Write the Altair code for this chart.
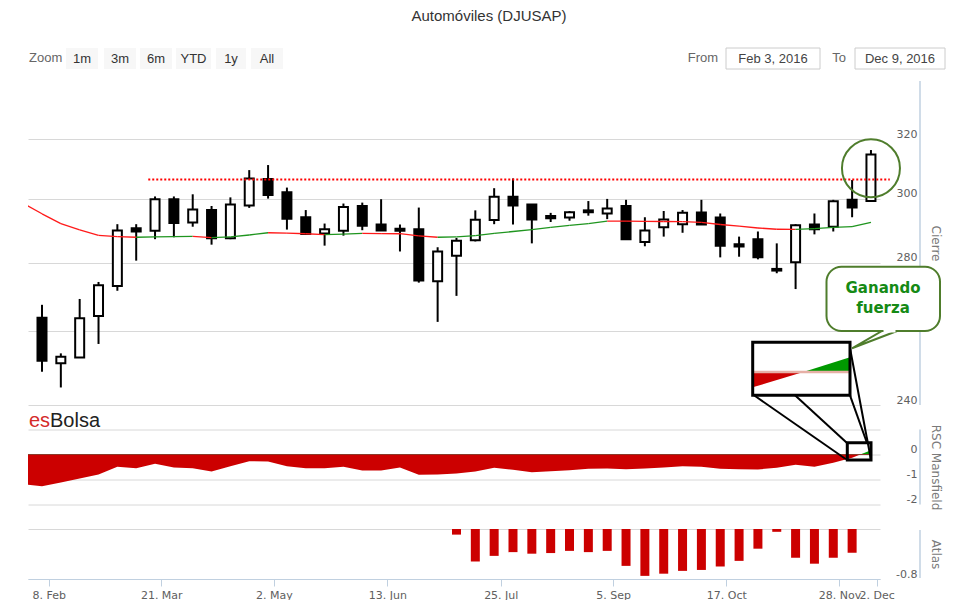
import altair as alt
import numpy as np
import pandas as pd

# ---------------- data (weekly candles, index 0..44) ----------------
opens = [263.8, 251.1, 252.7, 264.3, 273.0, 290.6, 289.8, 299.9, 292.4, 296.4,
         287.5, 297.9, 306.5, 302.2, 294.1, 289.0, 289.8, 297.7, 291.8, 290.5,
         290.3, 274.4, 282.1, 286.9, 293.2, 300.7, 298.2, 294.5, 294.0, 296.3,
         295.3, 297.7, 286.3, 290.9, 291.9, 295.6, 294.0, 285.6, 287.2, 278.1,
         280.1, 291.8, 291.1, 299.7, 299.3]
highs = [267.5, 253.8, 269.2, 274.2, 291.9, 291.9, 300.8, 300.8, 301.5, 297.7,
         300.5, 309.5, 311.2, 303.7, 296.4, 292.1, 298.5, 298.8, 299.9, 291.8,
         297.2, 284.7, 287.6, 296.3, 303.5, 306.7, 298.2, 295.5, 296.1, 299.3,
         300.0, 299.7, 294.1, 296.1, 296.4, 299.7, 295.3, 288.0, 289.6, 285.9,
         291.9, 295.3, 299.7, 306.2, 316.3]
lows = [248.8, 244.6, 252.7, 256.4, 271.6, 280.6, 287.2, 287.8, 291.1, 285.5,
        287.2, 297.1, 300.1, 290.2, 288.7, 285.2, 288.3, 290.0, 289.8, 283.4,
        274.0, 262.6, 270.1, 286.5, 291.9, 291.8, 285.9, 292.6, 293.0, 294.6,
        293.5, 287.1, 285.0, 288.0, 289.2, 291.7, 281.6, 281.8, 281.0, 276.8,
        272.1, 288.7, 289.6, 294.1, 299.0]
closes = [251.8, 252.9, 263.6, 273.2, 289.9, 289.6, 299.9, 292.3, 296.6, 287.5,
          298.2, 306.7, 301.3, 293.6, 288.8, 290.3, 297.4, 291.4, 289.9, 289.8,
          274.6, 283.4, 286.7, 293.3, 300.7, 297.9, 293.4, 293.8, 295.7, 295.7,
          296.9, 287.2, 289.9, 293.4, 295.5, 291.8, 285.2, 284.9, 281.6, 277.6,
          291.6, 290.3, 299.2, 297.2, 314.8]

# moving average and RSC Mansfield, weeks -1..44
series_first_week = -1
ma_values = [298.6, 295.2, 292.1, 290.1, 288.4, 288.0, 287.8, 287.9, 288.0, 288.1,
             287.7, 287.9, 288.5, 289.2, 289.1, 288.9, 288.6, 288.8, 289.0, 288.95,
             288.9, 288.2, 287.8, 287.9, 288.3, 289.0, 289.6, 290.2, 290.9, 291.5,
             292.1, 292.9, 292.85, 292.8, 292.75, 292.7, 292.5, 291.8, 291.3, 290.7,
             290.3, 290.25, 290.5, 290.9, 291.1, 292.5]
rsc_values = [-1.19, -1.27, -1.12, -0.96, -0.80, -0.49, -0.55, -0.37, -0.52, -0.55,
              -0.68, -0.47, -0.27, -0.28, -0.47, -0.55, -0.55, -0.49, -0.64, -0.64,
              -0.52, -0.81, -0.80, -0.76, -0.68, -0.53, -0.61, -0.71, -0.67, -0.63,
              -0.57, -0.56, -0.59, -0.56, -0.52, -0.47, -0.49, -0.57, -0.59, -0.60,
              -0.53, -0.41, -0.49, -0.33, -0.13, 0.17]

# Atlas, weeks 22..43
atlas_first_week = 22
atlas_values = [-0.09, -0.52, -0.43, -0.37, -0.395, -0.385, -0.35, -0.37, -0.35, -0.59,
                -0.75, -0.715, -0.67, -0.655, -0.60, -0.51, -0.315, -0.045, -0.46, -0.555,
                -0.46, -0.38]

resistance = {"level": 306.4, "start": 5.64, "end": 45.0}
highlight = {"week": 44, "price": 310.1}

tick_weeks = [0.356, 6.33, 12.31, 18.33, 24.35, 30.32, 36.32, 42.33, 44.3]
tick_labels = ["8. Feb", "21. Mar", "2. May", "13. Jun", "25. Jul", "5. Sep",
               "17. Oct", "28. Nov", "2. Dec"]
price_ticks = [240, 260, 280, 300, 320]
rsc_ticks = [1, 0, -1, -2]
atlas_ticks = [0, -0.8]

title_text = "Automóviles (DJUSAP)"
zoom_buttons = ["1m", "3m", "6m", "YTD", "1y", "All"]
date_from, date_to = "Feb 3, 2016", "Dec 9, 2016"

# ---------------- tables ----------------
candles = pd.DataFrame({"week": range(len(opens)), "open": opens, "high": highs,
                        "low": lows, "close": closes})
candles["dir"] = np.where(candles["close"] >= candles["open"], "up", "down")

ser_weeks = list(range(series_first_week, series_first_week + len(ma_values)))
ma_seg = pd.DataFrame({"week": ser_weeks[:-1], "week2": ser_weeks[1:],
                       "v": ma_values[:-1], "v2": ma_values[1:]})
ma_seg["dir"] = np.where(ma_seg["v2"] >= ma_seg["v"], "up", "down")

rows = []
for k, (w, v) in enumerate(zip(ser_weeks, rsc_values)):
    if k > 0:
        pw, pv = ser_weeks[k - 1], rsc_values[k - 1]
        if (pv < 0) != (v < 0):
            t = pv / (pv - v)
            rows.append((pw + t * (w - pw), 0.0))
    rows.append((w, v))
rsc_df = pd.DataFrame(rows, columns=["week", "v"])
rsc_df["neg"] = rsc_df["v"].clip(upper=0)
rsc_df["pos"] = rsc_df["v"].clip(lower=0)
rsc_df["zero"] = 0.0

atlas_df = pd.DataFrame({"week": range(atlas_first_week, atlas_first_week + len(atlas_values)),
                         "value": atlas_values})
atlas_df["zero"] = 0.0

res_df = pd.DataFrame([resistance])
hl_df = pd.DataFrame([highlight])
zero_df = pd.DataFrame([{"start": ser_weeks[0], "end": ser_weeks[-1], "level": 0.0}])
one = pd.DataFrame({"k": [0]})

# ---------------- layout ----------------
W, H_MAIN, H_RSC, H_ATLAS = 852, 324, 75, 50
AXIS_LINE = "#C0D0E0"
GRID = "#D8D8D8"
RED = "#cc0000"
OLIVE = "#4f7d2c"

x_scale = alt.Scale(domain=[-0.743, 44.48], nice=False, zero=False, padding=0)


def X(f):
    return alt.X(f, type="quantitative", scale=x_scale, axis=None)


axis_common = dict(orient="right", domain=False, ticks=False, tickSize=0, labelPadding=37,
                   labelAlign="right", labelBaseline="alphabetic", labelOffset=-2,
                   labelColor="#606060", labelFont="DejaVu Sans", labelFontSize=11,
                   labelOverlap=False, grid=True, gridColor=GRID, gridWidth=1,
                   titleAngle=90, titleX=55, titleAlign="center", titleBaseline="middle",
                   titleColor="#7a7a7a", titleFont="DejaVu Sans", titleFontSize=12,
                   titleFontWeight="normal", zindex=0)

y_scale = alt.Scale(type="log", domain=[240, 340.85], nice=False, padding=0)
y_axis_main = alt.Axis(values=price_ticks, labelExpr="datum.value == 260 ? '' : '' + datum.value",
                       title="Cierre", titleY=H_MAIN / 2, **axis_common)


def YM(f):
    return alt.Y(f, type="quantitative", scale=y_scale, axis=y_axis_main)


def prect(x, x2, y, y2, **kw):
    return alt.Chart(one).mark_rect(**kw).encode(
        x=alt.value(x), x2=alt.value(x2), y=alt.value(y), y2=alt.value(y2))


def pline(x, y, x2, y2, **kw):
    return alt.Chart(one).mark_rule(**kw).encode(
        x=alt.value(x), x2=alt.value(x2), y=alt.value(y), y2=alt.value(y2))


def ptext(x, y, text, **kw):
    opts = dict(align="center", baseline="middle", font="Liberation Sans", fontSize=13,
                color="#333333")
    opts.update(kw)
    return alt.Chart(one).mark_text(text=text, **opts).encode(x=alt.value(x), y=alt.value(y))


def pshape(x, y, path, **kw):
    return alt.Chart(one).mark_point(shape=path, size=4, filled=True, opacity=1, **kw).encode(
        x=alt.value(x), y=alt.value(y))


# ---- main panel ----
wicks = alt.Chart(candles).mark_rule(color="black", strokeWidth=2).encode(
    x=X("week"), y=YM("low"), y2="high")
bodies = alt.Chart(candles).mark_bar(size=9, stroke="black", strokeWidth=2).encode(
    x=X("week"), y=YM("open"), y2="close",
    fill=alt.Fill("dir:N", scale=alt.Scale(domain=["up", "down"], range=["white", "black"]),
                  legend=None))
ma = alt.Chart(ma_seg).mark_rule(strokeWidth=1.3, clip=True).encode(
    x=X("week"), x2="week2", y=YM("v"), y2="v2",
    color=alt.Color("dir:N", scale=alt.Scale(domain=["up", "down"], range=["#1f951f", "#ff1a1a"]),
                    legend=None))
res_line = alt.Chart(res_df).mark_rule(color="#ff0000", strokeWidth=2, strokeDash=[2, 2]).encode(
    x=X("start"), x2="end", y=YM("level"))
circle = alt.Chart(hl_df).mark_point(shape="circle", size=3364, filled=False, stroke=OLIVE,
                                     strokeWidth=2, opacity=1).encode(x=X("week"), y=YM("price"))

main_deco = [
    pline(892, 0, 892, H_MAIN, color=AXIS_LINE, strokeWidth=1.5),
    # title and toolbar
    ptext(461, -65, title_text, fontSize=15, color="#333333"),
    ptext(1, -23, "Zoom", align="left", color="#666666"),
]
btn_x = [(38, 70), (76, 108), (112, 144), (148, 183), (188, 218), (223, 255)]
for (bx0, bx1), lab in zip(btn_x, zoom_buttons):
    main_deco.append(prect(bx0, bx1, -33, -12, fill="#f7f7f7"))
    main_deco.append(ptext((bx0 + bx1) / 2, -22.5, lab))
main_deco += [
    ptext(675, -23, "From", color="#666666"),
    prect(698, 792, -33, -12, fill="white", stroke="#cccccc", strokeWidth=1),
    ptext(745, -22.5, date_from, color="#444444"),
    ptext(811, -23, "To", color="#666666"),
    prect(827, 917, -33, -12, fill="white", stroke="#cccccc", strokeWidth=1),
    ptext(872, -22.5, date_to, color="#444444"),
    # logo
    ptext(1, 346, "es", align="left", baseline="alphabetic", fontSize=20, color="#d42a2a"),
    ptext(22, 346, "Bolsa", align="left", baseline="alphabetic", fontSize=20, color="#222222"),
    # magnified inset
    prect(724.7, 822, 261.3, 314.3, fill="white"),
    pshape(724.7, 291, "M0,0 L50.6,0 L0,15.3 Z", fill=RED, strokeWidth=0),
    pshape(775.3, 291, "M0,0 L46.7,0 L46.7,-14.7 Z", fill="#009900", strokeWidth=0),
    pline(724.7, 291, 822, 291, color="#e6b0a6", strokeWidth=2.5),
    prect(724.7, 822, 261.3, 314.3, fillOpacity=0, stroke="black", strokeWidth=3),
    # callout
    prect(798.5, 912, 185.7, 250, fill="white", stroke=OLIVE, strokeWidth=2, cornerRadius=15),
    pshape(824, 267.3, "M0,0 L30,-17.3 L45,-17.3 Z", fill="white", stroke=OLIVE, strokeWidth=2),
    pline(855.5, 250, 867.5, 250, color="white", strokeWidth=3),
    ptext(855, 207.3, "Ganando", font="DejaVu Sans", fontWeight="bold", fontSize=15,
          color="#158a15"),
    ptext(855, 226.7, "fuerza", font="DejaVu Sans", fontWeight="bold", fontSize=15,
          color="#158a15"),
    # anchor for the top-left corner of the page content
    prect(-20, -19, -73, -72, opacity=0),
]
main = alt.layer(wicks, bodies, ma, res_line, circle, *main_deco).properties(
    width=W, height=H_MAIN)

# ---- RSC Mansfield panel ----
rsc_scale = alt.Scale(domain=[-2, 1], nice=False, zero=False, padding=0)
rsc_axis = alt.Axis(values=rsc_ticks, labelExpr="datum.value == 1 ? '' : '' + datum.value",
                    title="RSC Mansfield", titleY=H_RSC / 2, **axis_common)


def YR(f):
    return alt.Y(f, type="quantitative", scale=rsc_scale, axis=rsc_axis)


red_area = alt.Chart(rsc_df).mark_area(color=RED, clip=True, opacity=1).encode(
    x=X("week"), y=YR("neg"), y2="zero")
green_area = alt.Chart(rsc_df).mark_area(color="#00a000", clip=True, opacity=1).encode(
    x=X("week"), y=YR("pos"), y2="zero")
zero_line = alt.Chart(zero_df).mark_rule(color="#8a3a2a", strokeWidth=1, clip=True).encode(
    x=X("start"), x2="end", y=YR("level"))
rsc_deco = [
    pline(892, 0, 892, H_RSC, color=AXIS_LINE, strokeWidth=1.5),
    prect(819.3, 843, 13.2, 30.5, fillOpacity=0, stroke="black", strokeWidth=3),
    pline(726, -34.2, 818, 29.8, color="black", strokeWidth=2),
    pline(767, -34.2, 819.3, 13.8, color="black", strokeWidth=2),
    pline(822, -81.2, 842.7, 28.8, color="black", strokeWidth=2),
    pline(822, -34.2, 839, 13.5, color="black", strokeWidth=2),
]
rsc = alt.layer(red_area, green_area, zero_line, *rsc_deco).properties(width=W, height=H_RSC)

# ---- Atlas panel ----
label_expr = ""
for p, lab in zip(tick_weeks, tick_labels):
    label_expr += f"abs(datum.value - {p}) < 0.05 ? '{lab}' : "
label_expr += "''"
x_axis = alt.Axis(values=tick_weeks, labelExpr=label_expr, domainColor=AXIS_LINE, domainWidth=1,
                  tickColor=AXIS_LINE, tickSize=7, labelPadding=3, grid=False,
                  labelOverlap=False, labelFlush=False, labelColor="#606060",
                  labelFont="DejaVu Sans", labelFontSize=11, title=None)
atlas_scale = alt.Scale(domain=[-0.8, 0], nice=False, zero=False, padding=0)
atlas_axis = alt.Axis(values=atlas_ticks, labelExpr="datum.value < -0.5 ? '-0.8' : ''",
                      title="Atlas", titleY=H_ATLAS / 2, **axis_common)
bars = alt.Chart(atlas_df).mark_bar(size=9, color=RED).encode(
    x=alt.X("week", type="quantitative", scale=x_scale, axis=x_axis),
    y=alt.Y("value", type="quantitative", scale=atlas_scale, axis=atlas_axis),
    y2="zero")
atlas = alt.layer(bars, pline(892, 1, 892, 49, color=AXIS_LINE, strokeWidth=1.5)).properties(
    width=W, height=H_ATLAS)

chart = alt.vconcat(main, rsc, atlas, spacing=24.5, bounds="flush").properties(
    padding=0).configure_view(strokeWidth=0)

chart.save("out.html", embed_options={"renderer": "svg", "actions": False})
